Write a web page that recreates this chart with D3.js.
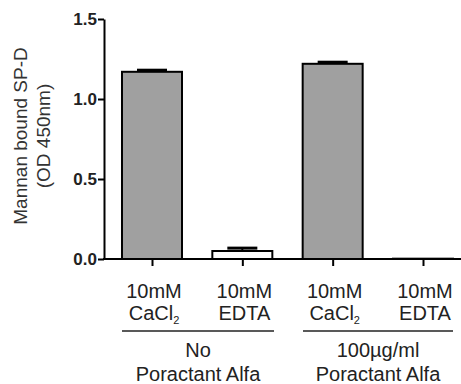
<!DOCTYPE html>
<html><head><meta charset="utf-8">
<script src="https://cdn.jsdelivr.net/npm/d3@7"></script>
<style>body{margin:0;background:#fff}svg{display:block;font-family:Arial,"Liberation Sans",sans-serif}</style>
</head><body><svg id="c" width="461" height="384"></svg>
<script>
const categories = ["CaCl2_No","EDTA_No","CaCl2_Por","EDTA_Por"];
const line1 = ["10mM","10mM","10mM","10mM"];
const line2 = ["CaCl","EDTA","CaCl","EDTA"];
const line2sub = ["2","","2",""];
const values = [1.17, 0.05, 1.22, 0.002];
const errors = [0.01, 0.018, 0.01, 0];
const fills = ["#a0a0a0","#ffffff","#a0a0a0","#ffffff"];
const groups = [["No","Poractant Alfa"],["100µg/ml","Poractant Alfa"]];
const yTicks = [0, 0.5, 1.0, 1.5];

const svg = d3.select("#c");
const y = d3.scaleLinear().domain([0,1.5]).range([259,19]);
const x = d3.scalePoint().domain(categories).range([152,423]);
const bw = 60, cw = 30;
const txt = "#222";

svg.selectAll("rect.bar").data(values).join("rect")
  .attr("x",(d,i)=>x(categories[i])-bw/2).attr("width",bw)
  .attr("y",d=>y(d)).attr("height",d=>y(0)-y(d))
  .attr("fill",(d,i)=>fills[i]).attr("stroke","#000").attr("stroke-width",2);
values.forEach((v,i)=>{
  if(errors[i]<=0) return;
  const cx=x(categories[i]);
  svg.append("line").attr("x1",cx).attr("x2",cx).attr("y1",y(v)).attr("y2",y(v+errors[i])).attr("stroke","#000").attr("stroke-width",2);
  svg.append("line").attr("x1",cx-cw/2).attr("x2",cx+cw/2).attr("y1",y(v+errors[i])).attr("y2",y(v+errors[i])).attr("stroke","#000").attr("stroke-width",3);
});

const ya = svg.append("g").attr("transform","translate(104,0)")
  .call(d3.axisLeft(y).tickValues(yTicks).tickFormat(d3.format(".1f")).tickSize(6).tickSizeOuter(0));
ya.select(".domain").attr("stroke","#000").attr("stroke-width",2);
ya.selectAll(".tick line").attr("stroke","#000").attr("stroke-width",2);
ya.selectAll(".tick text").attr("font-size",17).attr("font-weight","bold").attr("fill",txt)
  .attr("font-family","Arial,'Liberation Sans',sans-serif").attr("x",-7);

svg.append("line").attr("x1",103).attr("x2",461).attr("y1",y(0)).attr("y2",y(0)).attr("stroke","#000").attr("stroke-width",2);
const xa = svg.append("g").attr("transform",`translate(0,${y(0)})`)
  .call(d3.axisBottom(x).tickSize(7).tickFormat(""));
xa.select(".domain").remove();
xa.selectAll(".tick line").attr("stroke","#000").attr("stroke-width",2);

categories.forEach((c,i)=>{
  const cx=x(c)+2;
  svg.append("text").attr("x",cx).attr("y",298).attr("text-anchor","middle")
    .attr("font-size",20).attr("fill",txt).text(line1[i]);
  const t=svg.append("text").attr("x",cx).attr("y",320).attr("text-anchor","middle")
    .attr("font-size",20).attr("fill",txt);
  t.append("tspan").text(line2[i]);
  if(line2sub[i]) t.append("tspan").attr("font-size",11).attr("dy",4).text(line2sub[i]);
});

const gx=[[122,274],[303,453]];
groups.forEach((g,i)=>{
  svg.append("line").attr("x1",gx[i][0]).attr("x2",gx[i][1]).attr("y1",331).attr("y2",331).attr("stroke","#222").attr("stroke-width",1.5);
  const cx=(gx[i][0]+gx[i][1])/2;
  svg.append("text").attr("x",cx).attr("y",357).attr("text-anchor","middle").attr("font-size",20).attr("fill",txt).text(g[0]);
  svg.append("text").attr("x",cx).attr("y",381).attr("text-anchor","middle").attr("font-size",20).attr("fill",txt).text(g[1]);
});

svg.append("text").attr("transform","translate(27,136) rotate(-90)").attr("text-anchor","middle")
  .attr("font-size",19).attr("fill","#333").text("Mannan bound SP-D");
svg.append("text").attr("transform","translate(50,136) rotate(-90)").attr("text-anchor","middle")
  .attr("font-size",19).attr("fill","#333").text("(OD 450nm)");
</script></body></html>
